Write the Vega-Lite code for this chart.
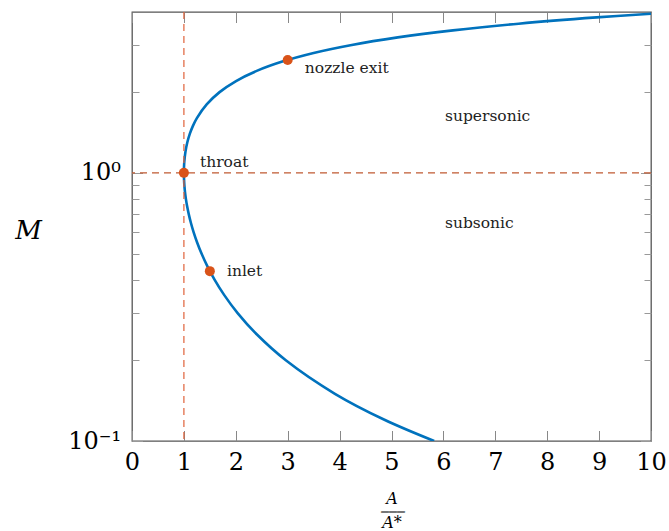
{
  "$schema": "https://vega.github.io/schema/vega-lite/v6.json",
  "width": 519,
  "height": 429,
  "autosize": {"type": "none"},
  "padding": {"left": 132, "top": 12, "right": 18, "bottom": 90},
  "background": "white",
  "config": {
    "view": {"stroke": "#555555", "strokeWidth": 1.3},
    "font": "DejaVu Serif",
    "text": {"font": "DejaVu Serif"},
    "axis": {"domain": false, "grid": false, "labelFlush": false, "labelOverlap": false, "labelFont": "DejaVu Serif", "titleFont": "DejaVu Serif", "labelColor": "#000000", "titleColor": "#000000"}
  },
  "datasets": {
    "curve": [
      {"M": 0.1, "ratio": 5.822, "o": 1},
      {"M": 0.12, "ratio": 4.864, "o": 2},
      {"M": 0.15, "ratio": 3.910, "o": 3},
      {"M": 0.2, "ratio": 2.9635, "o": 4},
      {"M": 0.25, "ratio": 2.4027, "o": 5},
      {"M": 0.3, "ratio": 2.0351, "o": 6},
      {"M": 0.35, "ratio": 1.778, "o": 7},
      {"M": 0.4, "ratio": 1.5901, "o": 8},
      {"M": 0.45, "ratio": 1.4487, "o": 9},
      {"M": 0.5, "ratio": 1.3398, "o": 10},
      {"M": 0.55, "ratio": 1.255, "o": 11},
      {"M": 0.6, "ratio": 1.1882, "o": 12},
      {"M": 0.65, "ratio": 1.1356, "o": 13},
      {"M": 0.7, "ratio": 1.0944, "o": 14},
      {"M": 0.75, "ratio": 1.0624, "o": 15},
      {"M": 0.8, "ratio": 1.0382, "o": 16},
      {"M": 0.85, "ratio": 1.0207, "o": 17},
      {"M": 0.9, "ratio": 1.0089, "o": 18},
      {"M": 0.95, "ratio": 1.0022, "o": 19},
      {"M": 1.0, "ratio": 1.0, "o": 20},
      {"M": 1.05, "ratio": 1.002, "o": 21},
      {"M": 1.1, "ratio": 1.0079, "o": 22},
      {"M": 1.2, "ratio": 1.0304, "o": 23},
      {"M": 1.3, "ratio": 1.0663, "o": 24},
      {"M": 1.4, "ratio": 1.1149, "o": 25},
      {"M": 1.5, "ratio": 1.1762, "o": 26},
      {"M": 1.6, "ratio": 1.2502, "o": 27},
      {"M": 1.8, "ratio": 1.439, "o": 28},
      {"M": 2.0, "ratio": 1.6875, "o": 29},
      {"M": 2.2, "ratio": 2.005, "o": 30},
      {"M": 2.4, "ratio": 2.4031, "o": 31},
      {"M": 2.6, "ratio": 2.896, "o": 32},
      {"M": 2.8, "ratio": 3.5001, "o": 33},
      {"M": 3.0, "ratio": 4.2346, "o": 34},
      {"M": 3.2, "ratio": 5.121, "o": 35},
      {"M": 3.4, "ratio": 6.1837, "o": 36},
      {"M": 3.6, "ratio": 7.4501, "o": 37},
      {"M": 3.8, "ratio": 8.9506, "o": 38},
      {"M": 3.922, "ratio": 10.0, "o": 39}
    ],
    "points": [
      {"ratio": 1.0, "M": 1.0, "name": "throat"},
      {"ratio": 1.5, "M": 0.43, "name": "inlet"},
      {"ratio": 3.0, "M": 2.637, "name": "nozzle exit"}
    ],
    "labels": [
      {"ratio": 1.31, "M": 1.1, "label": "throat"},
      {"ratio": 3.33, "M": 2.46, "label": "nozzle exit"},
      {"ratio": 1.83, "M": 0.431, "label": "inlet"},
      {"ratio": 6.03, "M": 1.63, "label": "supersonic"},
      {"ratio": 6.03, "M": 0.651, "label": "subsonic"}
    ]
  },
  "layer": [
    {
      "data": {"name": "curve"},
      "mark": {"type": "line", "color": "#0072bd", "strokeWidth": 2.6, "interpolate": "catmull-rom", "clip": true},
      "encoding": {
        "x": {"field": "ratio", "type": "quantitative",
          "scale": {"domain": [0, 10], "nice": false, "zero": false},
          "axis": {"orient": "bottom", "values": [0,1,2,3,4,5,6,7,8,9,10], "format": "d", "labelFontSize": 24, "labelPadding": 20, "tickSize": -10.5, "tickColor": "#888888", "tickWidth": 1,
            "title": ["A", "⎯⎯⎯", "A*"], "titleFontSize": 16, "titleFontStyle": "italic", "titleFontWeight": "normal", "titleLineHeight": 12, "titlePadding": 16}},
        "y": {"field": "M", "type": "quantitative",
          "scale": {"type": "log", "domain": [0.1, 3.98], "nice": false},
          "axis": {"orient": "left", "values": [0.1,0.2,0.3,0.4,0.5,0.6,0.7,0.8,0.9,1,2,3,4],
            "labelExpr": "datum.value == 1 ? '10⁰' : (datum.value == 0.1 ? '10⁻¹' : '')",
            "labelFontSize": 24, "labelPadding": 22,
            "tickSize": {"condition": {"test": "datum.value == 1 || datum.value == 0.1", "value": -10.5}, "value": -7},
            "tickColor": "#999999",
            "title": "M", "titleAngle": 0, "titleFontSize": 26, "titleFontStyle": "italic", "titleFontWeight": "normal", "titleAlign": "center", "titleBaseline": "middle", "titleX": -104, "titleY": 218}},
        "order": {"field": "o", "type": "quantitative"}
      }
    },
    {
      "data": {"values": [{"ratio": 1}]},
      "mark": {"type": "rule", "color": "#e0623a", "strokeWidth": 1.2, "strokeDash": [7, 5]},
      "encoding": {"x": {"field": "ratio", "type": "quantitative", "axis": null}}
    },
    {
      "data": {"values": [{"M": 1}]},
      "mark": {"type": "rule", "color": "#c05a32", "strokeWidth": 1.1, "strokeDash": [7, 5]},
      "encoding": {"y": {"field": "M", "type": "quantitative", "axis": null}}
    },
    {
      "data": {"name": "points"},
      "mark": {"type": "point", "filled": true, "color": "#d95319", "size": 100, "opacity": 1},
      "encoding": {
        "x": {"field": "ratio", "type": "quantitative",
          "axis": {"orient": "top", "values": [0,1,2,3,4,5,6,7,8,9,10], "labels": false, "title": null, "tickSize": -10.5, "tickColor": "#888888"}},
        "y": {"field": "M", "type": "quantitative",
          "axis": {"orient": "right", "values": [0.1,0.2,0.3,0.4,0.5,0.6,0.7,0.8,0.9,1,2,3,4], "labels": false, "title": null,
            "tickSize": {"condition": {"test": "datum.value == 1 || datum.value == 0.1", "value": -10.5}, "value": -7},
            "tickColor": "#999999"}}
      }
    },
    {
      "data": {"name": "labels"},
      "mark": {"type": "text", "align": "left", "baseline": "middle", "fontSize": 15.5, "font": "DejaVu Serif", "color": "#222222"},
      "encoding": {
        "x": {"field": "ratio", "type": "quantitative", "axis": null},
        "y": {"field": "M", "type": "quantitative", "axis": null},
        "text": {"field": "label"}
      }
    }
  ],
  "resolve": {"axis": {"x": "independent", "y": "independent"}}
}
